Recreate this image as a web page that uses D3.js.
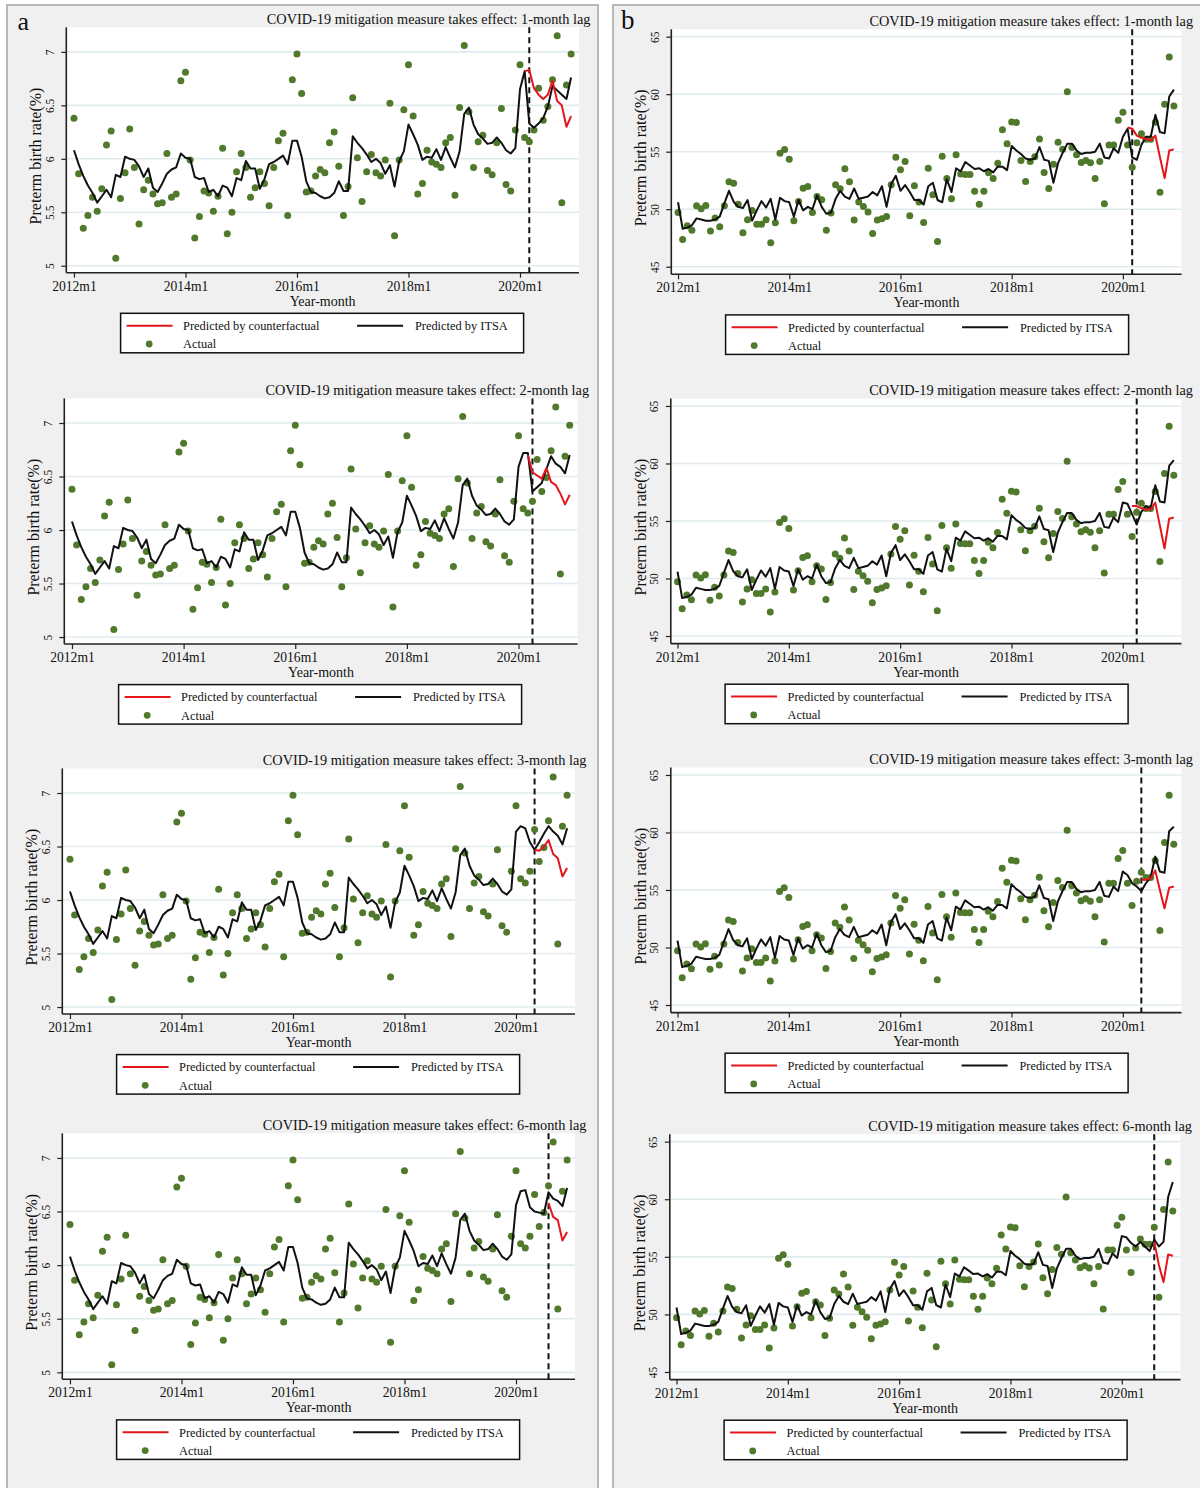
<!DOCTYPE html>
<html><head><meta charset="utf-8">
<script src="https://cdn.jsdelivr.net/npm/d3@7"></script>
<style>
body{margin:0;background:#fff}
svg{display:block}
text{font-family:"Liberation Serif","Times New Roman",serif;fill:#111}
</style>
</head><body>
<svg id="c" width="1200" height="1488"></svg>
<script>
// ---------------- DATA ----------------
// month index 0 = 2012m1 ... 107 = 2020m12
const xTickIdx = [0, 24, 48, 72, 96];
const xTickLabels = ["2012m1", "2014m1", "2016m1", "2018m1", "2020m1"];
const yTicksA = [5, 5.5, 6, 6.5, 7];
const yTicksB = [45, 50, 55, 60, 65];
const lagLabels = ["1-month lag", "2-month lag", "3-month lag", "6-month lag"];
const interventionIdx = [98, 99, 100, 103];

const actualA = [
  6.38,5.86,5.35,5.47,5.64,5.51,5.72,6.13,6.26,5.07,
  5.63,5.87,6.28,5.92,5.39,5.71,5.80,5.67,5.58,5.59,
  6.05,5.64,5.67,6.73,6.81,5.99,5.26,5.46,5.70,5.68,
  5.51,5.65,6.10,5.30,5.50,5.88,6.05,5.92,5.64,5.73,
  5.88,5.77,5.56,5.92,6.17,6.24,5.47,6.74,6.98,6.61,
  5.69,5.70,5.84,5.90,5.87,6.15,6.25,5.93,5.47,5.74,
  6.57,6.01,5.60,5.88,6.04,5.87,5.84,5.99,6.52,5.28,
  5.99,6.46,6.88,6.40,5.67,5.77,6.08,5.97,5.95,5.92,
  6.15,6.20,5.66,6.48,7.06,6.44,5.92,6.16,6.22,5.89,
  5.85,6.15,6.47,5.76,5.70,6.27,6.88,6.20,6.16,6.27,
  6.66,6.36,6.49,6.74,7.15,5.59,6.69,6.98];

const actualB = [
  49.72,47.37,48.56,48.16,50.30,50.04,50.33,48.10,49.23,48.47,
  50.30,52.38,52.26,50.44,47.95,49.08,49.89,48.70,48.70,49.08,
  47.08,48.82,54.87,55.19,54.35,48.99,50.67,51.83,51.98,49.72,
  51.11,50.82,48.18,49.66,52.12,51.77,53.51,52.38,49.05,50.62,
  50.24,49.75,47.89,49.05,49.17,49.37,52.12,54.52,53.42,54.15,
  49.43,52.03,50.62,48.85,53.57,51.25,47.20,54.61,52.67,50.90,
  54.73,53.05,53.02,53.02,51.57,50.44,51.57,53.16,52.67,54.00,
  56.90,55.68,57.59,57.53,54.23,52.41,54.15,54.55,56.11,53.19,
  51.80,53.91,55.82,55.22,60.20,55.36,54.73,54.06,54.23,54.03,
  52.67,54.15,50.47,55.59,55.59,57.74,58.43,55.59,53.65,55.77,
  56.55,56.09,56.09,57.56,51.48,59.12,63.23,58.98];

// ITSA predictions, months 0..95 (shared), then a per-lag tail for months 96..107
const itsaPreA = [
  6.08,5.95,5.84,5.75,5.68,5.59,5.65,5.71,5.64,5.85,
  5.83,6.02,6.00,5.99,5.93,5.83,5.91,5.73,5.69,5.77,
  5.86,5.90,5.92,6.05,6.01,6.00,5.83,5.81,5.82,5.69,
  5.71,5.65,5.75,5.73,5.65,5.82,5.80,5.98,5.91,5.91,
  5.72,5.81,5.95,5.97,6.00,6.03,5.95,6.17,6.17,6.02,
  5.79,5.69,5.68,5.65,5.63,5.64,5.68,5.79,5.70,5.70,
  6.21,6.15,6.10,6.04,5.97,6.00,5.96,5.86,5.94,5.74,
  5.98,6.07,6.32,6.23,6.13,5.99,6.02,6.01,6.09,5.99,
  6.11,6.01,5.92,6.07,6.42,6.48,6.32,6.23,6.19,6.14,
  6.15,6.20,6.15,6.08,6.05,6.10];
const itsaTailA1 = [6.65,6.82,6.33,6.29,6.33,6.38,6.49,6.68,6.64,6.60,6.56,6.76];
const itsaTailA2 = [6.59,6.72,6.72,6.36,6.40,6.44,6.57,6.69,6.62,6.59,6.53,6.70];
const itsaTailA3 = [6.64,6.69,6.67,6.54,6.47,6.54,6.62,6.69,6.64,6.60,6.52,6.67];
const itsaTailA6 = [6.56,6.69,6.70,6.54,6.50,6.49,6.48,6.68,6.62,6.60,6.55,6.72];

const itsaPreB = [
  50.6,48.3,48.4,48.6,49.2,49.1,49.0,49.0,49.1,49.35,
  50.5,51.6,50.65,50.2,50.1,50.8,49.0,49.9,50.7,50.15,
  50.9,49.1,51.0,50.7,50.6,49.35,50.8,49.9,50.2,50.0,
  51.2,50.2,49.6,49.7,50.9,51.6,51.1,50.9,51.8,50.9,
  51.0,51.1,51.5,51.2,52.0,50.2,52.2,52.9,51.6,52.1,
  51.5,50.8,50.8,50.4,52.0,52.3,50.8,50.6,52.6,51.5,
  53.55,53.3,54.1,53.8,53.5,53.55,53.3,53.5,53.2,53.7,
  53.7,53.4,55.5,55.1,54.8,54.4,54.3,54.4,55.4,54.3,
  54.2,52.3,54.0,54.9,55.7,55.7,55.1,54.8,54.9,54.9,
  55.0,55.7,54.5,54.4,55.3,54.9];
const itsaTailB1 = [56.3,57.0,54.5,54.3,55.6,56.3,56.3,58.2,56.7,56.6,59.8,60.4];
const itsaTailB2 = [56.6,56.5,55.6,54.7,55.8,56.3,56.1,58.1,56.7,56.6,59.8,60.3];
const itsaTailB3 = [56.6,56.3,55.6,55.3,54.9,55.6,56.1,57.9,56.6,56.5,60.1,60.5];
const itsaTailB6 = [56.8,56.7,56.2,55.9,56.3,55.9,55.5,56.5,55.9,56.3,60.2,61.5];

// Counterfactual predictions and the month each starts at
const cfStart = [97, 98, 100, 103];
const cfA1 = [6.82,6.83,6.66,6.60,6.56,6.60,6.73,6.54,6.50,6.30,6.40];
const cfA2 = [6.70,6.54,6.51,6.48,6.58,6.45,6.42,6.34,6.24,6.33];
const cfA3 = [6.47,6.46,6.50,6.56,6.43,6.39,6.22,6.30];
const cfA6 = [6.58,6.45,6.42,6.23,6.31];
const cfB1 = [57.1,57.0,56.4,56.2,56.1,56.0,56.4,54.5,52.7,55.1,55.2];
const cfB2 = [56.3,56.3,56.1,56.0,56.0,56.6,54.6,52.6,55.2,55.3];
const cfB3 = [55.9,55.9,56.0,56.7,55.0,53.4,55.2,55.3];
const cfB6 = [56.3,54.3,52.8,55.2,55.1];

const legendLabels = ["Predicted by counterfactual", "Predicted by ITSA", "Actual"];

// ---------------- LAYOUT / STYLE ----------------
const C = {dot:"#50792c", red:"#e5161b", black:"#111", grid:"#e1ebee", axis:"#222", box:"#f0f0f0", boxStroke:"#b8b8b8"};
const geomA = [
  {l:66.3, r:579.0, t:27.3, b:272.7},
  {l:64.3, r:577.6, t:398.4, b:644.0},
  {l:62.3, r:575.0, t:768.4, b:1014.0},
  {l:62.3, r:575.0, t:1133.3, b:1379.3}];
const geomB = [
  {l:671.3, r:1181.6, t:29.3, b:274.3},
  {l:670.8, r:1181.5, t:398.6, b:643.6},
  {l:670.8, r:1181.5, t:767.6, b:1012.6},
  {l:669.8, r:1180.5, t:1134.3, b:1379.6}];

const svg = d3.select("#c");
svg.append("rect").attr("x",7).attr("y",5).attr("width",591).attr("height",1500)
  .attr("fill",C.box).attr("stroke",C.boxStroke).attr("stroke-width",2);
svg.append("rect").attr("x",613).attr("y",5).attr("width",600).attr("height",1500)
  .attr("fill",C.box).attr("stroke",C.boxStroke).attr("stroke-width",2);

function series(startIdx, vals){ return vals.map((v,k)=>({i:startIdx+k, v})); }

function drawPanel(g, spec){
  const x = d3.scaleLinear().domain(spec.xDom).range([g.l, g.r]);
  const y = d3.scaleLinear().domain(spec.yDom).range([g.b, g.t]);
  const p = svg.append("g");
  p.append("rect").attr("x",g.l).attr("y",g.t).attr("width",g.r-g.l).attr("height",g.b-g.t).attr("fill","#fff");
  // grid
  p.selectAll(".gl").data(spec.yTicks).join("line")
    .attr("x1",g.l).attr("x2",g.r).attr("y1",d=>y(d)).attr("y2",d=>y(d))
    .attr("stroke",C.grid).attr("stroke-width",1.6);
  // y axis
  const ya = p.append("g").attr("transform",`translate(${g.l},0)`)
    .call(d3.axisLeft(y).tickValues(spec.yTicks).tickSize(5).tickFormat(d=>String(d)));
  ya.select(".domain").remove();
  ya.selectAll("line").attr("stroke",C.axis).attr("stroke-width",1.2);
  ya.selectAll("text").attr("transform","rotate(-90)").attr("x",0).attr("y",-12.5).attr("dy",0)
    .attr("text-anchor","middle").style("font-size","11.5px").style("font-family","'Liberation Serif',serif").attr("fill","#222");
  p.append("line").attr("x1",g.l).attr("x2",g.l).attr("y1",g.t).attr("y2",g.b)
    .attr("stroke",C.axis).attr("stroke-width",1.6);
  // x axis
  const xa = p.append("g").attr("transform",`translate(0,${g.b})`)
    .call(d3.axisBottom(x).tickValues(xTickIdx).tickSize(5).tickFormat((d,k)=>xTickLabels[k]));
  xa.select(".domain").remove();
  xa.selectAll("line").attr("stroke",C.axis).attr("stroke-width",1.2);
  xa.selectAll("text").attr("y",8.5).style("font-size","13.6px").style("font-family","'Liberation Serif',serif").attr("fill","#111");
  p.append("line").attr("x1",g.l).attr("x2",g.r).attr("y1",g.b).attr("y2",g.b)
    .attr("stroke",C.axis).attr("stroke-width",1.6);
  // labels
  p.append("text").attr("x",(g.l+g.r)/2).attr("y",g.b+33).attr("text-anchor","middle")
    .style("font-size","14px").text("Year-month");
  p.append("text").attr("transform",`translate(${g.l-25},${(g.t+g.b)/2+6}) rotate(-90)`)
    .attr("text-anchor","middle").style("font-size","16px").text("Preterm birth rate(%)");
  p.append("text").attr("x",g.r+11.5).attr("y",g.t-3.5).attr("text-anchor","end")
    .style("font-size","14.3px").text("COVID-19 mitigation measure takes effect: " + spec.lag);
  // dashed intervention line
  p.append("line").attr("x1",x(spec.dash)).attr("x2",x(spec.dash)).attr("y1",g.t).attr("y2",g.b)
    .attr("stroke",C.black).attr("stroke-width",2).attr("stroke-dasharray","6,4");
  // dots
  p.selectAll(".dot").data(series(0, spec.actual)).join("circle")
    .attr("cx",d=>x(d.i)).attr("cy",d=>y(d.v)).attr("r",3.5).attr("fill",C.dot);
  const line = d3.line().x(d=>x(d.i)).y(d=>y(d.v));
  p.append("path").attr("d",line(series(0, spec.itsa))).attr("fill","none")
    .attr("stroke",C.black).attr("stroke-width",2).attr("stroke-linejoin","round");
  p.append("path").attr("d",line(series(spec.cfStart, spec.cf))).attr("fill","none")
    .attr("stroke",C.red).attr("stroke-width",2).attr("stroke-linejoin","round");
  // legend
  const L = g.l + 54.3, T = g.b + 40.6;
  const lg = p.append("g").attr("transform",`translate(${L},${T})`);
  lg.append("rect").attr("x",0).attr("y",0).attr("width",403).attr("height",39.5)
    .attr("fill","#fff").attr("stroke","#111").attr("stroke-width",1.5);
  lg.append("line").attr("x1",6).attr("x2",52).attr("y1",12.4).attr("y2",12.4).attr("stroke",C.red).attr("stroke-width",2);
  lg.append("text").attr("x",62.5).attr("y",16.7).style("font-size","12.4px").text(legendLabels[0]);
  lg.append("line").attr("x1",236.5).attr("x2",282.5).attr("y1",12.4).attr("y2",12.4).attr("stroke",C.black).attr("stroke-width",2);
  lg.append("text").attr("x",294.3).attr("y",16.7).style("font-size","12.4px").text(legendLabels[1]);
  lg.append("circle").attr("cx",28.6).attr("cy",30.7).attr("r",3.4).attr("fill",C.dot);
  lg.append("text").attr("x",62.5).attr("y",35).style("font-size","12.4px").text(legendLabels[2]);
}

const tailsA = [itsaTailA1, itsaTailA2, itsaTailA3, itsaTailA6];
const tailsB = [itsaTailB1, itsaTailB2, itsaTailB3, itsaTailB6];
const cfsA = [cfA1, cfA2, cfA3, cfA6];
const cfsB = [cfB1, cfB2, cfB3, cfB6];

for (let k = 0; k < 4; k++) {
  drawPanel(geomA[k], {xDom:[-1.65,108.7], yDom:[4.935,7.23], yTicks:yTicksA, actual:actualA,
    itsa:itsaPreA.concat(tailsA[k]), cf:cfsA[k], cfStart:cfStart[k], dash:interventionIdx[k], lag:lagLabels[k]});
  drawPanel(geomB[k], {xDom:[-1.45,108.66], yDom:[44.34,65.64], yTicks:yTicksB, actual:actualB,
    itsa:itsaPreB.concat(tailsB[k]), cf:cfsB[k], cfStart:cfStart[k], dash:interventionIdx[k], lag:lagLabels[k]});
}
svg.append("text").attr("x",17.5).attr("y",29.5).style("font-size","26px").text("a");
svg.append("text").attr("x",621).attr("y",29).style("font-size","27px").text("b");
</script>
</body></html>
